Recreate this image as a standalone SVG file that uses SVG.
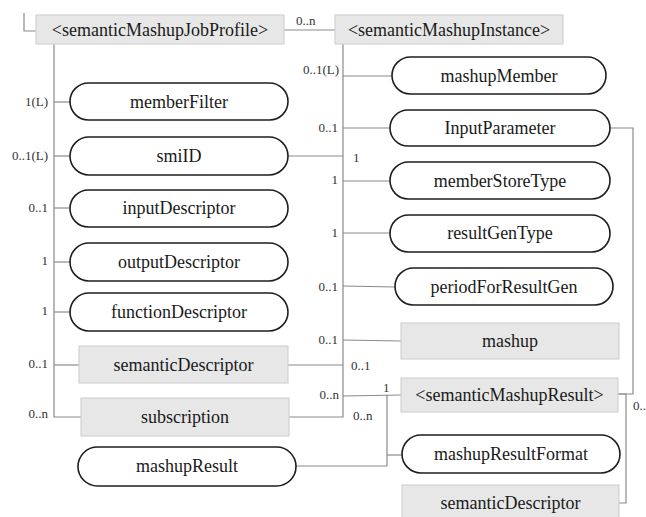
<svg xmlns="http://www.w3.org/2000/svg" width="646" height="517" viewBox="0 0 646 517">
  <style>
    .elem { fill: #ffffff; stroke: #1e1e1e; stroke-width: 1.6; }
    .group { fill: #e7e7e7; stroke: #d2d2d2; stroke-width: 1.2; }
    .name { font-family: "Liberation Serif", "Times New Roman", serif; font-size: 18px; fill: #1a1a1a; text-anchor: middle; dominant-baseline: central; }
    .card { font-family: "Liberation Serif", "Times New Roman", serif; font-size: 13px; fill: #333333; }
    .end { text-anchor: end; }
    .wire { fill: none; stroke: #8a8a8a; stroke-width: 1.2; }
  </style>
  <rect width="646" height="517" fill="#ffffff"/>

  <!-- connectors -->
  <g id="connectors" class="wire">
    <path d="M24,13 V31 H36"/>
    <path d="M284,30 H335"/>
    <!-- semanticMashupJobProfile children -->
    <path d="M54,44 V417 H81"/>
    <path d="M54,102 H70"/>
    <path d="M54,156 H70"/>
    <path d="M54,208 H70"/>
    <path d="M54,262 H70"/>
    <path d="M54,312 H70"/>
    <path d="M54,365 H79"/>
    <path d="M288,156 H343"/>
    <path d="M288,365 H343"/>
    <!-- semanticMashupInstance children -->
    <path d="M343,44 V417 H289"/>
    <path d="M343,76 H392"/>
    <path d="M343,128 H390"/>
    <path d="M343,181 H390"/>
    <path d="M343,233 H390"/>
    <path d="M343,286 L395,287"/>
    <path d="M343,340 L401,341"/>
    <path d="M343,396 L401,395"/>
    <!-- semanticMashupResult children -->
    <path d="M610,128 H633 V394 H618"/>
    <path d="M618,394 H626 V503 H619"/>
    <path d="M296,466 H387 V395"/>
    <path d="M387,455 H402"/>
  </g>

  <!-- cardinality labels -->
  <g id="cardinalities" class="card">
    <text x="296" y="25">0..n</text>
    <text class="end" x="48" y="106">1(L)</text>
    <text class="end" x="48" y="160">0..1(L)</text>
    <text class="end" x="48" y="212">0..1</text>
    <text class="end" x="48" y="265">1</text>
    <text class="end" x="48" y="315">1</text>
    <text class="end" x="48" y="368">0..1</text>
    <text class="end" x="48" y="418">0..n</text>
    <text class="end" x="339" y="74">0..1(L)</text>
    <text class="end" x="338" y="132">0..1</text>
    <text x="353" y="162">1</text>
    <text class="end" x="338" y="184">1</text>
    <text class="end" x="338" y="237">1</text>
    <text class="end" x="338" y="291">0..1</text>
    <text class="end" x="338" y="344">0..1</text>
    <text x="351" y="370">0..1</text>
    <text class="end" x="339" y="399">0..n</text>
    <text x="383" y="392">1</text>
    <text x="353" y="420">0..n</text>
    <text x="633" y="410">0..</text>
  </g>

  <!-- semanticMashupJobProfile and its children -->
  <g id="semanticMashupJobProfile">
    <rect class="group" x="36" y="15" width="248" height="29"/>
    <text class="name" x="160" y="30">&lt;semanticMashupJobProfile&gt;</text>
  </g>
  <g id="memberFilter">
    <rect class="elem" x="70" y="83" width="218" height="37" rx="18.5"/>
    <text class="name" x="179" y="102">memberFilter</text>
  </g>
  <g id="smiID">
    <rect class="elem" x="70" y="137" width="218" height="38" rx="19"/>
    <text class="name" x="179" y="156">smiID</text>
  </g>
  <g id="inputDescriptor">
    <rect class="elem" x="70" y="190" width="218" height="37" rx="18.5"/>
    <text class="name" x="179" y="208">inputDescriptor</text>
  </g>
  <g id="outputDescriptor">
    <rect class="elem" x="70" y="243" width="218" height="38" rx="19"/>
    <text class="name" x="179" y="262">outputDescriptor</text>
  </g>
  <g id="functionDescriptor">
    <rect class="elem" x="70" y="293" width="218" height="38" rx="19"/>
    <text class="name" x="179" y="312">functionDescriptor</text>
  </g>
  <g id="semanticDescriptor">
    <rect class="group" x="79" y="346" width="209" height="37"/>
    <text class="name" x="183.5" y="365">semanticDescriptor</text>
  </g>
  <g id="subscription">
    <rect class="group" x="81" y="398" width="208" height="38"/>
    <text class="name" x="185" y="417">subscription</text>
  </g>
  <g id="mashupResult">
    <rect class="elem" x="78" y="447" width="218" height="39" rx="19.5"/>
    <text class="name" x="187" y="466">mashupResult</text>
  </g>

  <!-- semanticMashupInstance and its children -->
  <g id="semanticMashupInstance">
    <rect class="group" x="335" y="15" width="228" height="29"/>
    <text class="name" x="449" y="30">&lt;semanticMashupInstance&gt;</text>
  </g>
  <g id="mashupMember">
    <rect class="elem" x="392" y="57" width="214" height="37" rx="18.5"/>
    <text class="name" x="499" y="76">mashupMember</text>
  </g>
  <g id="InputParameter">
    <rect class="elem" x="390" y="110" width="220" height="36" rx="18"/>
    <text class="name" x="500" y="128">InputParameter</text>
  </g>
  <g id="memberStoreType">
    <rect class="elem" x="390" y="162" width="220" height="37" rx="18.5"/>
    <text class="name" x="500" y="181">memberStoreType</text>
  </g>
  <g id="resultGenType">
    <rect class="elem" x="390" y="215" width="220" height="37" rx="18.5"/>
    <text class="name" x="500" y="233">resultGenType</text>
  </g>
  <g id="periodForResultGen">
    <rect class="elem" x="395" y="268" width="218" height="37" rx="18.5"/>
    <text class="name" x="504" y="287">periodForResultGen</text>
  </g>
  <g id="mashup">
    <rect class="group" x="401" y="323" width="218" height="36"/>
    <text class="name" x="510" y="341">mashup</text>
  </g>

  <!-- semanticMashupResult and its children -->
  <g id="semanticMashupResult">
    <rect class="group" x="401" y="378" width="217" height="34"/>
    <text class="name" x="509.5" y="395">&lt;semanticMashupResult&gt;</text>
  </g>
  <g id="mashupResultFormat">
    <rect class="elem" x="402" y="435" width="218" height="38" rx="19"/>
    <text class="name" x="511" y="454">mashupResultFormat</text>
  </g>
  <g id="semanticDescriptor2">
    <rect class="group" x="402" y="485" width="217" height="36"/>
    <text class="name" x="510.5" y="503">semanticDescriptor</text>
  </g>
</svg>
